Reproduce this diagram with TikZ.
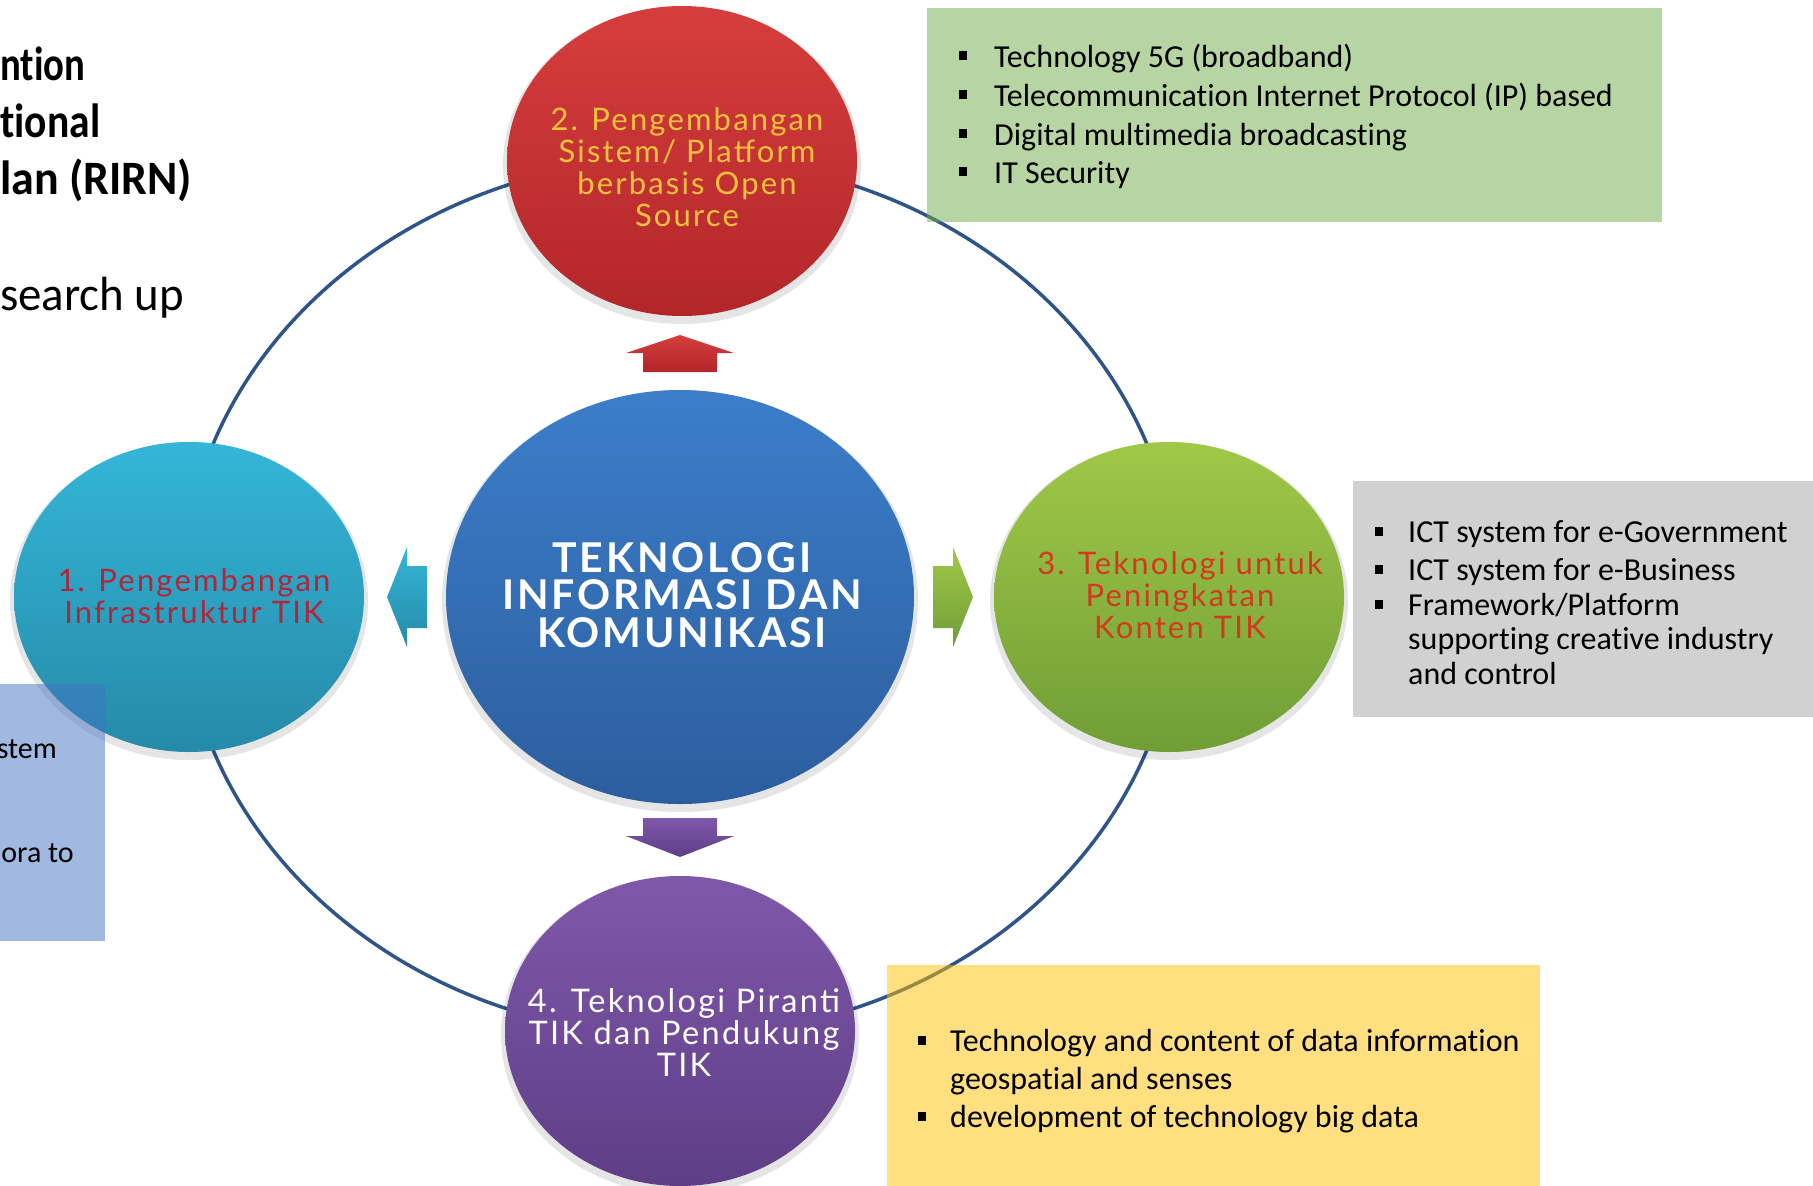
\documentclass[tikz,border=0pt]{standalone}
\usepackage{fontspec}
\usepackage{graphicx}
\setmainfont{Carlito}[Ligatures=NoCommon]
\newfontfamily\circfont[LetterSpace=7]{Lato}
\usetikzlibrary{shapes.geometric}
\definecolor{ringc}{RGB}{47,84,138}
\definecolor{redT}{RGB}{214,62,60}
\definecolor{redB}{RGB}{178,38,42}
\definecolor{cyanT}{RGB}{52,182,216}
\definecolor{cyanB}{RGB}{38,138,168}
\definecolor{blueT}{RGB}{60,126,202}
\definecolor{blueB}{RGB}{44,94,158}
\definecolor{greenT}{RGB}{160,200,72}
\definecolor{greenB}{RGB}{112,158,54}
\definecolor{purT}{RGB}{128,88,170}
\definecolor{purB}{RGB}{94,62,134}
\definecolor{goldtxt}{RGB}{246,194,62}
\definecolor{cyantxt}{RGB}{178,38,58}
\definecolor{greentxt}{RGB}{212,56,30}
\definecolor{boxgreen}{RGB}{112,173,71}
\definecolor{boxgrey}{RGB}{165,165,165}
\definecolor{boxyellow}{RGB}{255,192,0}
\definecolor{boxblue}{RGB}{68,114,196}
\tikzset{
  bubble/.style={ellipse, inner sep=0, minimum width=350, minimum height=310},
  halo/.style={ellipse, inner sep=0, minimum width=358, minimum height=318, fill=black, opacity=0.10},
  circtext/.style={font=\circfont\fontsize{31}{32}\selectfont, align=center, inner sep=0},
  listtxt/.style={font=\fontsize{32}{35}\selectfont, anchor=mid west, inner sep=0},
  bul/.style={fill=black, minimum width=8, minimum height=9, inner sep=0},
  infobox/.style={anchor=north west, inner sep=0, draw=none},
  titletxt/.style={font=\bfseries\fontsize{48}{58}\selectfont, anchor=base west, inner sep=0},
  sidetxt/.style={font=\fontsize{30}{35}\selectfont, anchor=base east, inner sep=0}
}
\begin{document}
\begin{tikzpicture}[x=1pt,y=-1pt]
\useasboundingbox (0,0) rectangle (1813,1186);
\fill[white] (0,0) rectangle (1813,1186);

% ring round the centre
\coordinate (ringc) at (680,597);
\draw[ringc, line width=3.5] (ringc) ellipse [x radius=498, y radius=439];

% halos
\node[halo] at (682,165) {};
\node[halo] at (189,601) {};
\node[halo, minimum width=476, minimum height=422] at (680,601) {};
\node[halo] at (1169,601) {};
\node[halo] at (680,1035) {};

% bubbles
\node[bubble, top color=redT, bottom color=redB] (red) at (682,161) {};
\node[bubble, top color=cyanT, bottom color=cyanB] (cyan) at (189,597) {};
\node[ellipse, inner sep=0, minimum width=468, minimum height=414, top color=blueT, bottom color=blueB] (ctr) at (680,597) {};
\node[bubble, top color=greenT, bottom color=greenB] (green) at (1169,597) {};
\node[bubble, top color=purT, bottom color=purB] (purple) at (680,1031) {};

% arrows
\shade[top color=redT, bottom color=redB]
  (680,335) -- (734,353) -- (717,353) -- (717,372) -- (643,372) -- (643,353) -- (626,353) -- cycle;
\shade[top color=purT, bottom color=purB]
  (680,857) -- (734,836) -- (717,836) -- (717,818) -- (643,818) -- (643,836) -- (626,836) -- cycle;
\shade[top color=cyanT, bottom color=cyanB]
  (387,597) -- (407,547) -- (407,566) -- (427,566) -- (427,628) -- (407,628) -- (407,647) -- cycle;
\shade[top color=greenT, bottom color=greenB]
  (973,597) -- (953,547) -- (953,566) -- (933,566) -- (933,628) -- (953,628) -- (953,647) -- cycle;

% bubble texts
\node[circtext, text=goldtxt] (redtxt) at (687,167) {2. Pengembangan\\Sistem/ Platform\\berbasis Open\\Source};
\node[circtext, text=cyantxt] (cyantxt) at (194,596) {1. Pengembangan\\Infrastruktur TIK};
\node[circtext, font=\circfont\bfseries\fontsize{41}{37.5}\selectfont, text=white] (ctrtxt) at (682,595) {TEKNOLOGI\\INFORMASI DAN\\KOMUNIKASI};
\node[circtext, text=greentxt] (greentxt) at (1180,595) {3. Teknologi untuk\\Peningkatan\\Konten TIK};
\node[circtext, font=\circfont\fontsize{32.5}{32}\selectfont, text=white] (purtxt) at (684,1033) {4. Teknologi Piranti\\TIK dan Pendukung\\TIK};

% boxes
\node[infobox, fill=boxgreen, fill opacity=0.5, minimum width=735, minimum height=214] (gbox) at (927,8) {};
\node[infobox, fill=boxgrey, fill opacity=0.5, minimum width=460, minimum height=236] (greybox) at (1353,481) {};
\node[infobox, fill=boxyellow, fill opacity=0.5, minimum width=653, minimum height=221] (ybox) at (887,965) {};
\node[infobox, fill=boxblue, fill opacity=0.5, minimum width=105, minimum height=257] (bbox) at (0,684) {};

% green list
\node[bul] (gb1) at (963,55) {};
\node[bul] (gb2) at (963,94) {};
\node[bul] (gb3) at (963,133) {};
\node[bul] (gb4) at (963,171) {};
\node[listtxt] (gt1) at (994,65) {Technology 5G (broadband)};
\node[listtxt] (gt2) at (994,104) {Telecommunication Internet Protocol (IP) based};
\node[listtxt] (gt3) at (994,143) {Digital multimedia broadcasting};
\node[listtxt] (gt4) at (994,181) {IT Security};

% grey list
\node[bul] (rb1) at (1379,531) {};
\node[bul] (rb2) at (1379,569) {};
\node[bul] (rb3) at (1379,604) {};
\node[listtxt] (rt1) at (1408,540) {ICT system for e-Government};
\node[listtxt] (rt2) at (1408,578) {ICT system for e-Business};
\node[listtxt] (rt3) at (1408,613) {Framework/Platform};
\node[listtxt] (rt4) at (1408,647) {supporting creative industry};
\node[listtxt] (rt5) at (1408,682) {and control};

% yellow list
\node[bul] (yb1) at (922,1040) {};
\node[bul] (yb2) at (922,1116) {};
\node[listtxt] (yt1) at (950,1049) {Technology and content of data information};
\node[listtxt] (yt2) at (950,1087) {geospatial and senses};
\node[listtxt] (yt3) at (950,1125) {development of technology big data};

% blue side box text
\node[sidetxt] (s1) at (57,758) {stem};
\node[sidetxt] (s2) at (74,862) {ora to};

% title fragments
\node[titletxt] (t1) at (0,80) {\resizebox{85pt}{\height}{ntion}};
\node[titletxt] (t2) at (0,137) {\resizebox{100pt}{\height}{tional}};
\node[titletxt] (t3) at (0,194) {\resizebox{192pt}{\height}{lan (RIRN)}};
\node[titletxt, font=\fontsize{48}{58}\selectfont] (t4) at (0,310) {\resizebox{184pt}{\height}{search up}};
\end{tikzpicture}
\end{document}
